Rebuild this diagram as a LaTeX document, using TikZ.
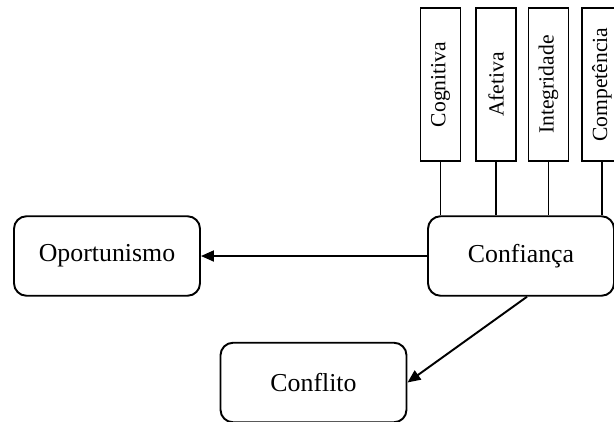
\documentclass[tikz,border=0pt]{standalone}
\usepackage{fontspec}
\setmainfont{Liberation Serif}
\usetikzlibrary{arrows.meta}

\begin{document}
\begin{tikzpicture}[line width=1.1pt,
    bigbox/.style={draw, rounded corners=0.25cm, minimum width=3.72cm, minimum height=1.59cm, inner sep=0pt, font=\fontsize{14.7}{17}\selectfont},
    tallbox/.style={draw, minimum width=0.8cm, minimum height=3.06cm, inner sep=0pt, font=\fontsize{12.3}{14}\selectfont},
    arr/.style={-{Triangle[length=0.26cm, width=0.22cm]}}]
            \useasboundingbox (0, 0) rectangle (12.28, 8.42);

            \node[bigbox] (conf) at (10.42, 3.30) {Confiança};
            \node[bigbox] (opo) at (2.14, 3.30) {Oportunismo};
            \node[bigbox] (confl) at (6.27, 0.77) {Conflito};

            \node[tallbox] (cog) at (8.81, 6.73) {\rotatebox{90}{Cognitiva}};
            \node[tallbox] (afe) at (9.92, 6.73) {\rotatebox{90}{Afetiva}};
            \node[tallbox] (int) at (10.97, 6.73) {\rotatebox{90}{Integridade}};
            \node[tallbox] (comp) at (12.04, 6.73) {\rotatebox{90}{Competência}};

            \foreach \d in {cog, afe, int, comp}
                \draw (\d.south) -- (\d.south |- conf.north);

            \draw[arr] (conf.west) -- (opo.east);
            \draw[arr] ([xshift=1.2mm]conf.south) -- (confl.east);
        \end{tikzpicture}
\end{document}
